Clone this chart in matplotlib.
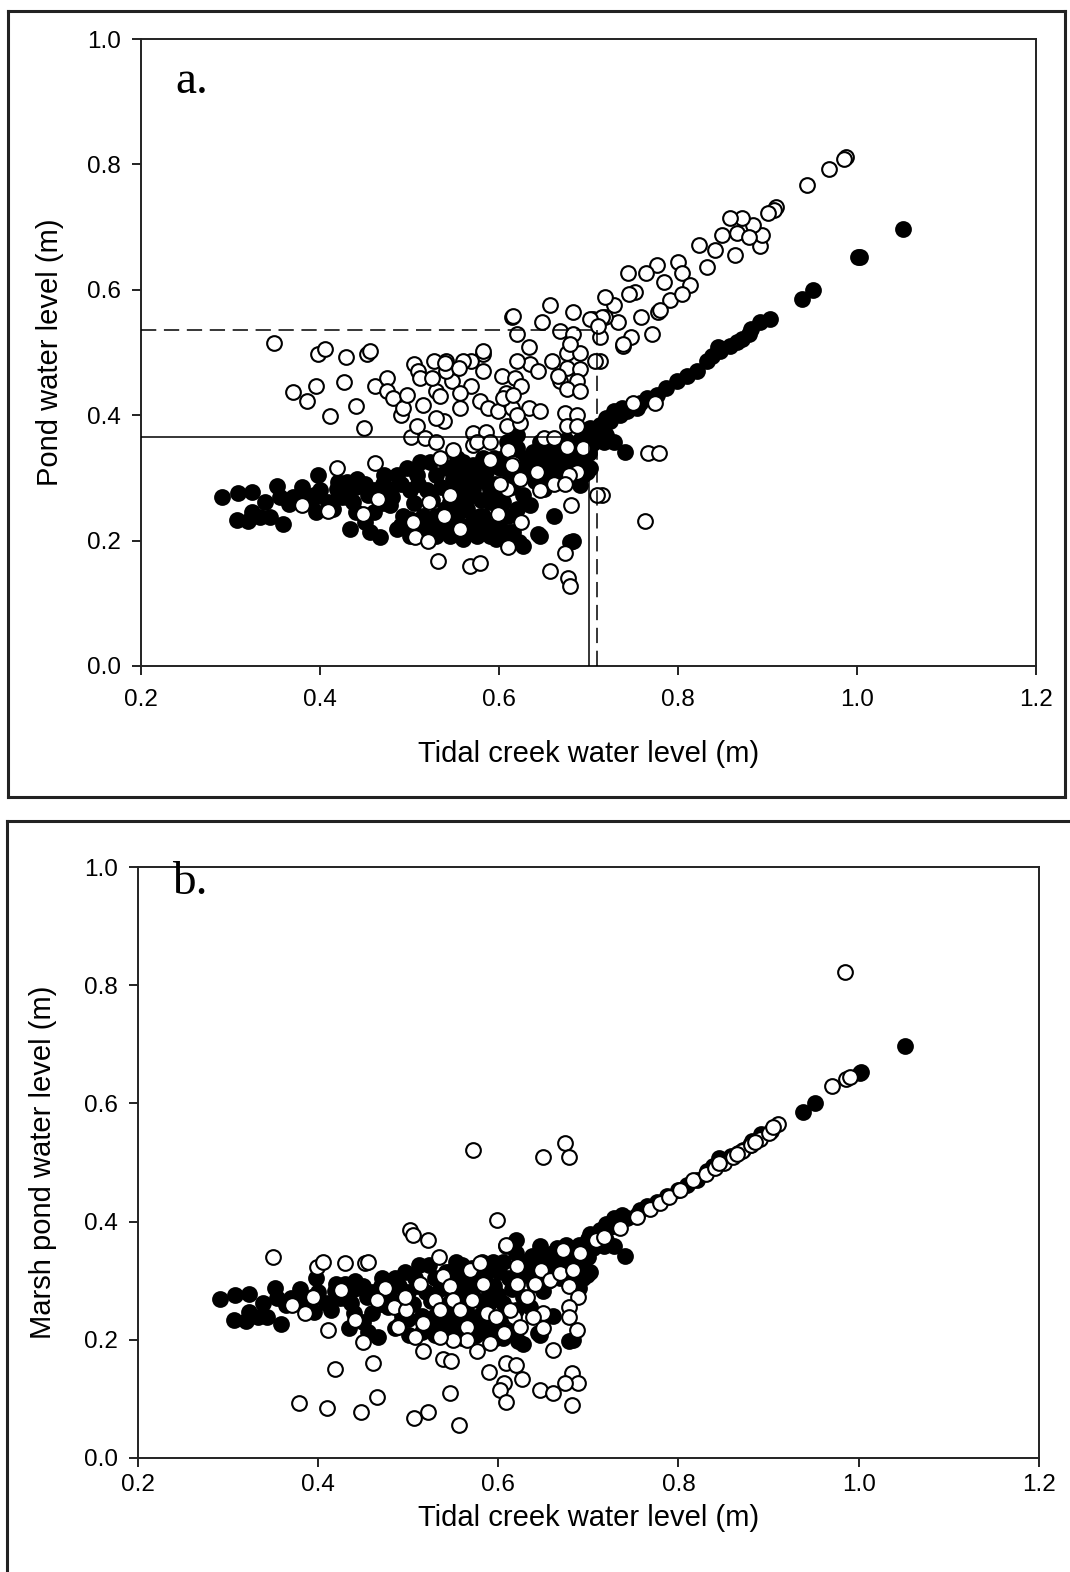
import numpy as np
import matplotlib
matplotlib.use('Agg')
import matplotlib.pyplot as plt
from matplotlib.lines import Line2D

plt.rcParams['font.family'] = ['Liberation Sans', 'DejaVu Sans']

# closed circles (same series in both panels): tidal creek vs pond level
closed_x = [0.291, 0.308, 0.324, 0.339, 0.352, 0.307, 0.320, 0.333, 0.344, 0.359, 0.365, 0.385, 0.394, 0.398, 0.419, 0.420,
            0.324, 0.366, 0.393, 0.396, 0.409, 0.430, 0.434, 0.437, 0.441, 0.456, 0.467, 0.454, 0.471, 0.478, 0.486, 0.497,
            0.508, 0.512, 0.523, 0.530, 0.542, 0.553, 0.560, 0.568, 0.575, 0.582, 0.590, 0.560, 0.545, 0.530, 0.515, 0.493,
            0.478, 0.486, 0.501, 0.515, 0.530, 0.545, 0.560, 0.575, 0.582, 0.590, 0.605, 0.616, 0.627, 0.646, 0.661, 0.679,
            0.635, 0.650, 0.668, 0.690, 0.694, 0.687, 0.605, 0.612, 0.627, 0.620, 0.638, 0.657, 0.672, 0.609, 0.620, 0.713,
            0.724, 0.735, 0.741, 0.717, 0.694, 0.702, 0.594, 0.601,
            0.545, 0.556, 0.571, 0.549, 0.556, 0.571, 0.586, 0.590, 0.579, 0.564, 0.545, 0.571, 0.597, 0.612, 0.622, 0.644,
            0.627, 0.635, 0.646, 0.657, 0.668, 0.679, 0.698, 0.650, 0.683, 0.605, 0.702, 0.713, 0.720, 0.728, 0.737, 0.720,
            0.728, 0.646, 0.661, 0.698,
            0.430, 0.440, 0.450, 0.460, 0.470, 0.480, 0.490, 0.500, 0.505, 0.510, 0.520, 0.525, 0.535, 0.540, 0.550, 0.555,
            0.565, 0.570, 0.580, 0.585, 0.595, 0.600, 0.615, 0.620, 0.630, 0.640, 0.655, 0.660, 0.670, 0.680, 0.685, 0.700,
            0.705, 0.710, 0.490, 0.500, 0.520, 0.535, 0.555, 0.570, 0.585, 0.600, 0.610, 0.620, 0.460, 0.470, 0.440, 0.450,
            0.415, 0.425, 0.400, 0.370, 0.380, 0.355, 0.640, 0.650, 0.665, 0.675, 0.690, 0.700,
            0.743, 0.754, 0.765, 0.776, 0.787, 0.799, 0.810, 0.821, 0.838, 0.845, 0.866, 0.882, 0.892, 0.903, 0.938, 0.951,
            1.001, 1.003, 1.051, 0.879, 0.832, 0.757, 0.717, 0.713, 0.847, 0.858, 0.872]
closed_y = [0.269, 0.276, 0.278, 0.262, 0.287, 0.233, 0.231, 0.238, 0.238, 0.226, 0.258, 0.266, 0.270, 0.305, 0.283, 0.294,
            0.246, 0.262, 0.272, 0.246, 0.262, 0.294, 0.219, 0.262, 0.299, 0.213, 0.205, 0.272, 0.304, 0.283, 0.304, 0.315,
            0.304, 0.326, 0.326, 0.304, 0.315, 0.331, 0.326, 0.315, 0.299, 0.331, 0.283, 0.283, 0.262, 0.240, 0.240, 0.240,
            0.256, 0.219, 0.208, 0.213, 0.208, 0.208, 0.203, 0.208, 0.240, 0.208, 0.203, 0.213, 0.192, 0.208, 0.240, 0.197,
            0.256, 0.283, 0.304, 0.288, 0.331, 0.326, 0.262, 0.304, 0.331, 0.347, 0.342, 0.342, 0.347, 0.358, 0.369, 0.369,
            0.390, 0.401, 0.342, 0.358, 0.304, 0.315, 0.331, 0.315,
            0.315, 0.304, 0.321, 0.299, 0.262, 0.283, 0.294, 0.262, 0.240, 0.251, 0.230, 0.213, 0.203, 0.213, 0.197, 0.211,
            0.272, 0.326, 0.315, 0.331, 0.339, 0.331, 0.310, 0.321, 0.200, 0.331, 0.379, 0.385, 0.395, 0.406, 0.411, 0.369,
            0.358, 0.358, 0.347, 0.347,
            0.270, 0.285, 0.290, 0.280, 0.290, 0.270, 0.290, 0.280, 0.260, 0.290, 0.280, 0.265, 0.285, 0.250, 0.275, 0.245,
            0.270, 0.300, 0.265, 0.310, 0.290, 0.275, 0.285, 0.300, 0.310, 0.295, 0.300, 0.320, 0.320, 0.310, 0.340, 0.340,
            0.355, 0.360, 0.225, 0.235, 0.225, 0.225, 0.225, 0.230, 0.225, 0.225, 0.240, 0.250, 0.245, 0.260, 0.245, 0.230,
            0.250, 0.270, 0.280, 0.270, 0.285, 0.270, 0.330, 0.345, 0.355, 0.360, 0.360, 0.370,
            0.406, 0.411, 0.427, 0.433, 0.443, 0.454, 0.462, 0.470, 0.494, 0.508, 0.516, 0.537, 0.548, 0.553, 0.585, 0.600,
            0.652, 0.653, 0.697, 0.529, 0.486, 0.420, 0.374, 0.363, 0.502, 0.511, 0.522]

# open circles, panel a
pond_x = [0.988, 0.986, 0.969, 0.944, 0.910, 0.907, 0.901, 0.892, 0.894, 0.884, 0.871, 0.858, 0.866, 0.849, 0.864, 0.879,
          0.823, 0.832, 0.841, 0.800, 0.804, 0.813, 0.777, 0.764, 0.744, 0.784, 0.791, 0.778, 0.759, 0.748, 0.771, 0.738,
          0.752, 0.745, 0.728, 0.718, 0.733, 0.718, 0.713, 0.804, 0.780,
          0.750, 0.774, 0.767, 0.779, 0.715, 0.763,
          0.614, 0.648, 0.657, 0.683, 0.705, 0.715, 0.739, 0.713, 0.668, 0.683, 0.633, 0.635, 0.620, 0.644, 0.659, 0.676,
          0.691, 0.676, 0.691, 0.707, 0.668, 0.687, 0.676, 0.691, 0.582, 0.569, 0.541, 0.547, 0.582, 0.603, 0.618, 0.625,
          0.608, 0.569, 0.556, 0.579, 0.556, 0.588, 0.599, 0.614, 0.633, 0.646, 0.538, 0.571, 0.586, 0.609, 0.623, 0.674,
          0.687, 0.676, 0.687, 0.650, 0.661, 0.571, 0.549, 0.534, 0.590, 0.610, 0.616, 0.676, 0.694, 0.623, 0.642, 0.687,
          0.678, 0.661, 0.646, 0.609, 0.601, 0.545, 0.709, 0.681, 0.599, 0.556, 0.538, 0.610, 0.674, 0.568, 0.579, 0.657,
          0.677, 0.679, 0.532, 0.575, 0.625, 0.614, 0.674, 0.616, 0.620, 0.679, 0.702, 0.711, 0.666, 0.560, 0.582, 0.530,
          0.541, 0.555, 0.605, 0.616, 0.620, 0.590,
          0.349, 0.398, 0.406, 0.429, 0.452, 0.456, 0.370, 0.385, 0.395, 0.427, 0.411, 0.440, 0.449, 0.461, 0.475, 0.475,
          0.482, 0.490, 0.493, 0.497, 0.505, 0.510, 0.512, 0.502, 0.508, 0.517, 0.530, 0.515, 0.527, 0.540, 0.525, 0.534,
          0.530, 0.461, 0.419, 0.380, 0.409, 0.465, 0.448, 0.504, 0.506, 0.521, 0.545, 0.522]
pond_y = [0.812, 0.808, 0.792, 0.767, 0.732, 0.727, 0.722, 0.670, 0.687, 0.703, 0.714, 0.715, 0.690, 0.687, 0.655, 0.684,
          0.671, 0.636, 0.663, 0.644, 0.626, 0.607, 0.639, 0.626, 0.626, 0.612, 0.583, 0.564, 0.557, 0.524, 0.529, 0.510,
          0.596, 0.593, 0.575, 0.588, 0.548, 0.556, 0.486, 0.593, 0.567,
          0.419, 0.419, 0.339, 0.340, 0.272, 0.232,
          0.556, 0.548, 0.575, 0.564, 0.553, 0.556, 0.513, 0.524, 0.535, 0.529, 0.508, 0.481, 0.486, 0.470, 0.486, 0.500,
          0.500, 0.476, 0.473, 0.486, 0.454, 0.454, 0.441, 0.438, 0.497, 0.486, 0.486, 0.454, 0.470, 0.462, 0.460, 0.446,
          0.435, 0.446, 0.435, 0.422, 0.411, 0.411, 0.406, 0.411, 0.411, 0.406, 0.390, 0.371, 0.374, 0.382, 0.387, 0.403,
          0.401, 0.382, 0.382, 0.363, 0.363, 0.353, 0.345, 0.331, 0.329, 0.345, 0.323, 0.350, 0.347, 0.299, 0.310, 0.310,
          0.304, 0.291, 0.280, 0.283, 0.291, 0.275, 0.272, 0.256, 0.243, 0.219, 0.240, 0.189, 0.181, 0.160, 0.165, 0.152,
          0.141, 0.128, 0.168, 0.358, 0.230, 0.321, 0.291, 0.559, 0.529, 0.513, 0.553, 0.543, 0.462, 0.486, 0.502, 0.438,
          0.470, 0.476, 0.427, 0.433, 0.401, 0.358,
          0.515, 0.498, 0.505, 0.493, 0.497, 0.502, 0.437, 0.422, 0.446, 0.453, 0.398, 0.414, 0.380, 0.446, 0.459, 0.438,
          0.427, 0.401, 0.411, 0.433, 0.481, 0.470, 0.460, 0.366, 0.382, 0.363, 0.358, 0.417, 0.486, 0.484, 0.460, 0.430,
          0.395, 0.323, 0.315, 0.256, 0.248, 0.267, 0.243, 0.230, 0.205, 0.200, 0.273, 0.262]

# open circles, panel b
marsh_x = [0.572, 0.650, 0.674, 0.678, 0.599, 0.502, 0.506, 0.522, 0.350, 0.534, 0.609, 0.399, 0.406, 0.430, 0.452, 0.456,
           0.411, 0.450, 0.419, 0.461, 0.379, 0.410, 0.448, 0.466, 0.507, 0.522, 0.547, 0.556, 0.517, 0.539, 0.548, 0.590,
           0.609, 0.620, 0.606, 0.602, 0.609, 0.626, 0.646, 0.661, 0.682, 0.689, 0.674, 0.682, 0.661, 0.687, 0.650,
           0.371, 0.386, 0.395, 0.441, 0.426, 0.474, 0.465, 0.484, 0.498, 0.489, 0.497, 0.513, 0.517, 0.530, 0.539, 0.535,
           0.547, 0.550, 0.558, 0.569, 0.571, 0.565, 0.580, 0.583, 0.587, 0.598, 0.606, 0.617, 0.621, 0.621, 0.613, 0.624,
           0.632, 0.641, 0.648, 0.657, 0.668, 0.679, 0.683, 0.689, 0.679, 0.678, 0.672, 0.691, 0.650, 0.639, 0.576, 0.591,
           0.565, 0.550, 0.508, 0.535,
           0.709, 0.717, 0.735, 0.754, 0.768, 0.779, 0.790, 0.802, 0.816, 0.830, 0.840, 0.850, 0.860, 0.870, 0.880, 0.890,
           0.900, 0.910, 0.845, 0.865, 0.885, 0.905, 0.970, 0.986, 0.990, 0.985]
marsh_y = [0.521, 0.510, 0.533, 0.510, 0.403, 0.386, 0.377, 0.369, 0.340, 0.340, 0.360, 0.323, 0.332, 0.329, 0.329, 0.332,
           0.216, 0.196, 0.150, 0.160, 0.092, 0.085, 0.078, 0.102, 0.068, 0.078, 0.109, 0.055, 0.180, 0.168, 0.163, 0.146,
           0.160, 0.157, 0.126, 0.115, 0.095, 0.134, 0.115, 0.109, 0.143, 0.126, 0.126, 0.090, 0.182, 0.216, 0.219,
           0.259, 0.245, 0.273, 0.233, 0.284, 0.287, 0.267, 0.256, 0.250, 0.222, 0.273, 0.295, 0.228, 0.267, 0.307, 0.250,
           0.290, 0.267, 0.250, 0.318, 0.267, 0.222, 0.329, 0.295, 0.245, 0.239, 0.211, 0.239, 0.295, 0.324, 0.250, 0.222,
           0.273, 0.295, 0.318, 0.301, 0.312, 0.290, 0.318, 0.273, 0.256, 0.239, 0.352, 0.346, 0.245, 0.239, 0.180, 0.194,
           0.199, 0.199, 0.205, 0.205,
           0.369, 0.374, 0.389, 0.408, 0.422, 0.431, 0.442, 0.453, 0.470, 0.480, 0.490, 0.500, 0.510, 0.520, 0.530, 0.540,
           0.550, 0.565, 0.500, 0.515, 0.535, 0.560, 0.630, 0.642, 0.644, 0.822]

# reference lines in panel a
solid_x, solid_y = 0.700, 0.366
dash_x, dash_y = 0.709, 0.536

fig = plt.figure(figsize=(10.70, 15.72), dpi=100)

ax_a = fig.add_axes([141 / 1070, 1 - 666 / 1572, 895 / 1070, 627 / 1572])
ax_b = fig.add_axes([137.7 / 1070, 1 - 1457.7 / 1572, 901.3 / 1070, 590.4 / 1572])

ms = 112
for ax, ox, oy, pad in [(ax_a, pond_x, pond_y, 10), (ax_b, marsh_x, marsh_y, 5)]:
    ax.scatter(closed_x, closed_y, s=ms, c='black', edgecolors='black', linewidths=1.5, zorder=3)
    ax.scatter(ox, oy, s=ms, c='white', edgecolors='black', linewidths=1.5, zorder=4)
    ax.set_xlim(0.2, 1.2)
    ax.set_ylim(0.0, 1.0)
    ax.set_xticks(np.arange(0.2, 1.21, 0.2))
    ax.set_yticks(np.arange(0.0, 1.01, 0.2))
    ax.set_xticklabels(['%.1f' % v for v in np.arange(0.2, 1.21, 0.2)])
    ax.set_yticklabels(['%.1f' % v for v in np.arange(0.0, 1.01, 0.2)])
    ax.tick_params(direction='out', length=6.5, width=1.4, labelsize=17.5, color='#222222', pad=8)
    ax.tick_params(axis='x', pad=pad)
    for sp in ax.spines.values():
        sp.set_linewidth(1.4)
        sp.set_color('#222222')

ax_a.plot([0.2, solid_x], [solid_y, solid_y], color='black', lw=1.1, zorder=5)
ax_a.plot([solid_x, solid_x], [0, solid_y], color='black', lw=1.1, zorder=5)
ax_a.plot([0.2, dash_x], [dash_y, dash_y], color='black', lw=1.1, ls=(0, (10, 5)), zorder=5)
ax_a.plot([dash_x, dash_x], [0, dash_y], color='black', lw=1.1, ls=(0, (10, 5)), zorder=5)

ax_a.set_xlabel('Tidal creek water level (m)', fontsize=21)
ax_a.set_ylabel('Pond water level (m)', fontsize=21)
ax_a.xaxis.set_label_coords(0.5, -0.140)
ax_a.xaxis.label.set_va('center')
ax_a.yaxis.set_label_coords(-0.102, 0.5)
ax_a.yaxis.label.set_va('center')

ax_b.set_xlabel('Tidal creek water level (m)', fontsize=21)
ax_b.set_ylabel('Marsh pond water level (m)', fontsize=21)
ax_b.xaxis.set_label_coords(0.5, -0.102)
ax_b.xaxis.label.set_va('center')
ax_b.yaxis.set_label_coords(-0.105, 0.5)
ax_b.yaxis.label.set_va('center')

ax_a.text(0.238, 0.914, 'a.', fontsize=34, family=['Liberation Serif', 'DejaVu Serif'])
ax_b.text(0.238, 0.955, 'b.', fontsize=34, family=['Liberation Serif', 'DejaVu Serif'])

# panel frames
W, H = 1070, 1572
def px_line(x0, y0, x1, y1):
    fig.add_artist(Line2D([x0 / W, x1 / W], [1 - y0 / H, 1 - y1 / H], color='#222222', lw=2.2))

px_line(8, 11, 1065, 11)
px_line(8, 797, 1065, 797)
px_line(8, 11, 8, 797)
px_line(1065, 11, 1065, 797)
px_line(7, 821, 1075, 821)
px_line(7, 821, 7, 1580)

fig.savefig('out.png', dpi=100)
